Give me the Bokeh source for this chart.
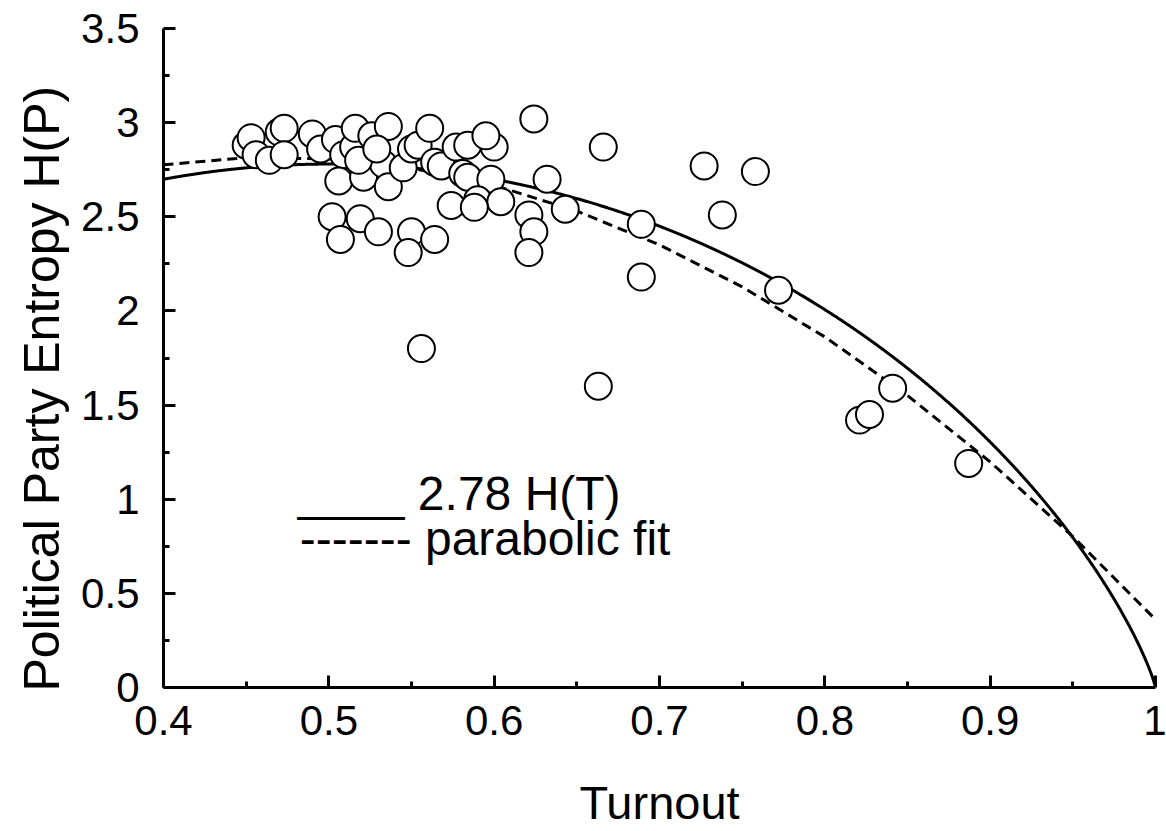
import numpy as np
from bokeh.plotting import figure
from bokeh.models import Range1d, FixedTicker, CustomJSTickFormatter, Label, Title, ColumnDataSource
from bokeh.embed import file_html
from bokeh.resources import INLINE

# ---- data ----
turnout = [0.450, 0.453, 0.456, 0.464, 0.470, 0.473, 0.473, 0.490, 0.495, 0.504,
           0.509, 0.515, 0.516, 0.526, 0.536, 0.506, 0.521, 0.533, 0.536, 0.545,
           0.550, 0.554, 0.561, 0.564, 0.568, 0.577, 0.584, 0.581, 0.584, 0.600,
           0.595, 0.598, 0.574, 0.590, 0.604, 0.588, 0.502, 0.519, 0.507, 0.530,
           0.550, 0.564, 0.548, 0.556, 0.624, 0.666, 0.632, 0.643, 0.621, 0.624,
           0.621, 0.727, 0.758, 0.738, 0.689, 0.689, 0.772, 0.663, 0.821, 0.827,
           0.841, 0.887, 0.518, 0.529]
entropy = [2.88, 2.92, 2.83, 2.80, 2.95, 2.97, 2.83, 2.94, 2.86, 2.91,
           2.83, 2.87, 2.97, 2.93, 2.98, 2.69, 2.71, 2.78, 2.66, 2.76,
           2.86, 2.88, 2.97, 2.79, 2.77, 2.87, 2.88, 2.73, 2.71, 2.87,
           2.93, 2.70, 2.56, 2.59, 2.58, 2.55, 2.50, 2.49, 2.38, 2.42,
           2.42, 2.38, 2.31, 1.80, 3.02, 2.87, 2.70, 2.54, 2.51, 2.42,
           2.31, 2.77, 2.74, 2.51, 2.46, 2.18, 2.11, 1.60, 1.42, 1.45,
           1.59, 1.19, 2.80, 2.86]

# parabolic fit
fit_x = [0.40, 0.45, 0.50, 0.55, 0.60, 0.65, 0.70, 0.75, 0.80, 0.85, 0.90, 0.95, 1.00]
fit_y = [2.776, 2.814, 2.808, 2.759, 2.667, 2.530, 2.351, 2.128, 1.862, 1.551, 1.198, 0.802, 0.361]

scale_factor = 2.78  # 2.78 H(T)

x_ticks = [0.4, 0.5, 0.6, 0.7, 0.8, 0.9, 1.0]
x_minor = [0.45, 0.55, 0.65, 0.75, 0.85, 0.95]
y_ticks = [0, 0.5, 1, 1.5, 2, 2.5, 3, 3.5]
y_minor = [0.25, 0.75, 1.25, 1.75, 2.25, 2.75, 3.25]

legend_solid = "____ 2.78 H(T)"
legend_dashed = "------- parabolic fit"
x_title = "Turnout"
y_title = "Political Party Entropy H(P)"

# theoretical curve 2.78 * binary entropy
T = np.linspace(0.4, 1.0, 1201)
with np.errstate(divide="ignore", invalid="ignore"):
    H = -T * np.log2(T) - (1 - T) * np.log2(1 - T)
H = np.nan_to_num(H, nan=0.0)
curve_y = scale_factor * H

FONT = "Liberation Sans"

p = figure(width=1166, height=831, x_range=Range1d(0.4, 1.0), y_range=Range1d(0, 3.5),
           output_backend="svg", toolbar_location=None,
           min_border_left=163, min_border_right=11, min_border_top=28, min_border_bottom=143)
p.outline_line_color = None
p.xgrid.visible = False
p.ygrid.visible = False
p.background_fill_color = "white"
p.border_fill_color = "white"

fmt = CustomJSTickFormatter(code="return (Math.round(tick*100)/100).toString();")
for ax, maj, mnr in ((p.xaxis[0], x_ticks, x_minor), (p.yaxis[0], y_ticks, y_minor)):
    ax.ticker = FixedTicker(ticks=maj, minor_ticks=mnr)
    ax.formatter = fmt
    ax.axis_line_width = 3
    ax.axis_line_color = "black"
    ax.major_tick_line_width = 3
    ax.minor_tick_line_width = 3
    ax.major_tick_in = 12
    ax.major_tick_out = 0
    ax.minor_tick_in = 6
    ax.minor_tick_out = 0
    ax.major_label_text_font = FONT
    ax.major_label_text_font_size = "42px"
    ax.major_label_text_color = "black"
    ax.axis_label_text_font = FONT
    ax.axis_label_text_font_size = "47px"
    ax.axis_label_text_font_style = "normal"
    ax.axis_label_text_color = "black"

p.xaxis.axis_label = x_title
p.xaxis.major_label_standoff = 18
p.yaxis.major_label_standoff = 24
p.xaxis.axis_label_standoff = 38

# y-axis title, anchored near the bottom of the frame as in the reference
ytitle = Title(text=y_title, align="left", offset=-4, text_font=FONT, text_font_size="50px",
               text_font_style="normal", text_color="black", standoff=17)
p.add_layout(ytitle, "left")

p.line(fit_x, fit_y, line_color="black", line_width=3, line_dash="10 6")
p.line(T, curve_y, line_color="black", line_width=3)

src = ColumnDataSource(dict(x=turnout, y=entropy))
p.scatter("x", "y", source=src, size=27, fill_color="white", line_color="black", line_width=2)

p.add_layout(Label(x=0.4812, y=1.030, text=legend_solid, text_font=FONT,
                   text_font_size="48px", text_color="black", text_baseline="alphabetic"))
p.add_layout(Label(x=0.4824, y=0.790, text=legend_dashed, text_font=FONT,
                   text_font_size="48px", text_color="black", text_baseline="alphabetic"))

open("out.html", "w").write(file_html(p, INLINE))
